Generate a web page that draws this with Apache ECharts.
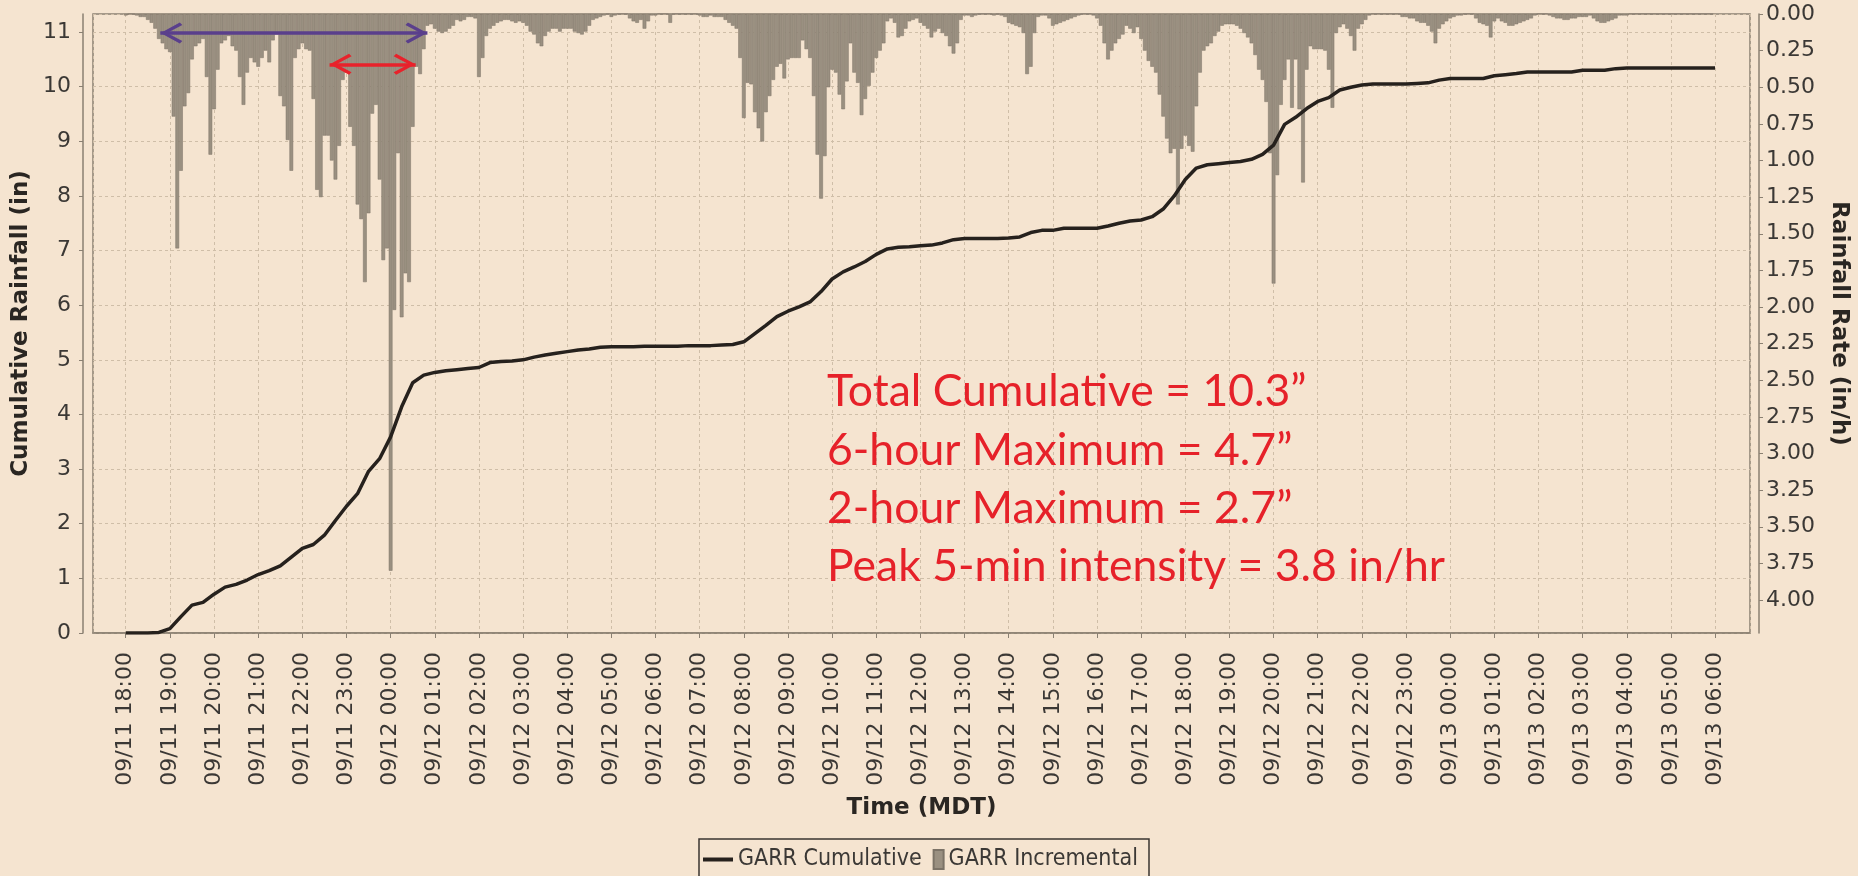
<!DOCTYPE html>
<html><head><meta charset="utf-8">
<script src="https://cdn.jsdelivr.net/npm/echarts@6/dist/echarts.min.js"></script>
<style>html,body{margin:0;padding:0;background:#F5E4D0;}#c{width:1858px;height:876px;}</style>
</head><body><div id="c"></div>
<script>
// ---------- DATA ----------
// 5-minute rainfall rate (in/h), starting 09/11 18:00 MDT, one array per 6 hours
const rate_0911_18to23 = [
  0.01,0,0,0.01,0.02,0.02,0.04,0.06,0.10,0.17,0.20,0.24,
  0.26,0.70,1.60,1.07,0.63,0.54,0.31,0.22,0.20,0.17,0.43,0.96,
  0.65,0.38,0.20,0.18,0.15,0.22,0.25,0.43,0.62,0.40,0.30,0.33,
  0.36,0.30,0.25,0.33,0.18,0.14,0.56,0.63,0.86,1.07,0.30,0.24,
  0.20,0.24,0.25,0.58,1.20,1.25,0.83,0.83,1.00,1.13,0.90,0.45,
  0.40,0.77,0.90,1.30,1.40,1.83,1.36,0.68,0.62,1.13,1.68,1.60
];
const rate_0912_00to05 = [
  3.80,2.02,0.95,2.07,1.77,1.83,0.77,0.36,0.41,0.24,0.08,0.07,
  0.10,0.12,0.13,0.12,0.10,0.08,0.04,0.05,0.04,0.02,0.02,0.03,
  0.43,0.30,0.15,0.10,0.08,0.06,0.05,0.04,0.04,0.05,0.06,0.05,
  0.06,0.08,0.12,0.14,0.20,0.22,0.15,0.12,0.10,0.10,0.12,0.10,
  0.10,0.10,0.12,0.13,0.14,0.12,0.08,0.04,0.03,0.02,0.01,0,
  0.02,0.01,0,0,0,0.03,0.05,0.06,0.04,0.10,0.05,0.01
];
const rate_0912_06to11 = [
  0.01,0,0,0,0.06,0,0,0,0,0,0,0,
  0.01,0.02,0.02,0.01,0.02,0.02,0.02,0.04,0.06,0.08,0.10,0.30,
  0.71,0.47,0.48,0.67,0.78,0.87,0.67,0.56,0.45,0.36,0.34,0.44,
  0.31,0.30,0.30,0.30,0.18,0.24,0.30,0.56,0.96,1.26,0.97,0.50,
  0.38,0.40,0.55,0.65,0.46,0.20,0.40,0.47,0.69,0.58,0.49,0.40,
  0.30,0.25,0.20,0.05,0.03,0.06,0.16,0.15,0.10,0.05,0.04,0.03
];
const rate_0912_12to17 = [
  0.06,0.08,0.10,0.16,0.12,0.10,0.13,0.15,0.22,0.27,0.20,0.04,
  0.01,0.01,0.02,0.01,0,0,0,0,0.01,0,0.01,0.02,
  0.06,0.07,0.08,0.09,0.13,0.41,0.36,0.13,0.02,0.01,0.01,0.03,
  0.08,0.07,0.06,0.05,0.04,0.03,0.02,0.01,0,0,0,0.01,
  0.03,0.08,0.20,0.31,0.25,0.20,0.17,0.14,0.08,0.10,0.13,0.09,
  0.17,0.25,0.32,0.36,0.40,0.55,0.70,0.85,0.95,0.92,1.30,0.92
];
const rate_0912_18to23 = [
  0.83,0.90,0.94,0.63,0.40,0.25,0.22,0.20,0.15,0.12,0.08,0.07,
  0.07,0.07,0.08,0.10,0.13,0.16,0.20,0.28,0.38,0.45,0.60,0.95,
  1.84,1.10,0.62,0.45,0.31,0.64,0.31,0.65,1.15,0.38,0.22,0.24,
  0.24,0.24,0.25,0.38,0.64,0.13,0.09,0.07,0.10,0.15,0.25,0.10,
  0.07,0.04,0.01,0,0,0,0,0,0,0,0,0.02,
  0.02,0.03,0.03,0.05,0.06,0.06,0.08,0.12,0.20,0.10,0.07,0.05
];
const rate_0913_00to05 = [
  0.03,0.02,0.01,0.01,0,0,0,0.03,0.06,0.07,0.08,0.16,
  0.05,0.03,0.05,0.06,0.08,0.08,0.07,0.06,0.05,0.04,0.03,0.01,
  0,0,0,0.01,0.02,0.03,0.03,0.04,0.04,0.03,0.03,0.02,
  0.02,0.02,0.01,0.03,0.05,0.06,0.06,0.05,0.04,0.03,0.01,0.01,
  0.01,0,0,0,0,0,0,0,0,0,0,0,
  0,0,0,0,0,0,0,0,0,0,0,0
];
// Cumulative rainfall (in) every 15 minutes from 09/11 18:00 to 09/13 06:00
const cum_0911_18to23 = [0.00,0.00,0.00,0.01, 0.08,0.30,0.51,0.56, 0.71,0.84,0.89,0.97, 1.07,1.14,1.23,1.39, 1.55,1.62,1.79,2.06, 2.32,2.55,2.96,3.19];
const cum_0912_00to05 = [3.59,4.14,4.58,4.72, 4.77,4.80,4.82,4.84, 4.86,4.95,4.97,4.98, 5.00,5.05,5.09,5.12, 5.15,5.18,5.20,5.23, 5.24,5.24,5.24,5.25];
const cum_0912_06to11 = [5.25,5.25,5.25,5.26, 5.26,5.26,5.27,5.28, 5.33,5.48,5.63,5.79, 5.89,5.97,6.06,6.25, 6.48,6.61,6.70,6.80, 6.93,7.03,7.06,7.07];
const cum_0912_12to17 = [7.09,7.10,7.14,7.20, 7.22,7.22,7.22,7.22, 7.23,7.25,7.33,7.37, 7.37,7.41,7.41,7.41, 7.41,7.45,7.50,7.54, 7.56,7.62,7.76,8.00];
const cum_0912_18to23 = [8.30,8.51,8.57,8.59, 8.61,8.63,8.67,8.76, 8.93,9.31,9.44,9.60, 9.73,9.80,9.94,9.99, 10.03,10.05,10.05,10.05, 10.05,10.06,10.07,10.12];
const cum_0913_00to06 = [10.15,10.15,10.15,10.15, 10.20,10.22,10.24,10.27, 10.27,10.27,10.27,10.27, 10.30,10.30,10.30,10.33, 10.34,10.34,10.34,10.34, 10.34,10.34,10.34,10.34, 10.34];

const seriesStart = [2013, 8, 11, 18, 0];   // 09/11 18:00
const axisStart   = [2013, 8, 11, 17, 18];  // time axis range
const axisEnd     = [2013, 8, 13, 6, 45];
const sixHourWindow = [[2013,8,11,18,47],[2013,8,12,0,50]];
const twoHourWindow = [[2013,8,11,22,37],[2013,8,12,0,34]];
const annotationLines = ['Total Cumulative = 10.3\u201D','6-hour Maximum = 4.7\u201D','2-hour Maximum = 2.7\u201D','Peak 5-min intensity = 3.8 in/hr'];
const seriesNames = ['GARR Cumulative','GARR Incremental'];
const axisNames = {x:'Time (MDT)', left:'Cumulative Rainfall (in)', right:'Rainfall Rate (in/h)'};

// ---------- BUILD ----------
const T = a => new Date(a[0],a[1],a[2],a[3],a[4]).getTime();
const t0 = T(seriesStart);
const rates = [].concat(rate_0911_18to23, rate_0912_00to05, rate_0912_06to11, rate_0912_12to17, rate_0912_18to23, rate_0913_00to05);
const cums = [].concat(cum_0911_18to23, cum_0912_00to05, cum_0912_06to11, cum_0912_12to17, cum_0912_18to23, cum_0913_00to06);
const barData = rates.map((v,i)=>[t0 + i*300000, v]);
const lineData = cums.map((v,i)=>[t0 + i*900000, v]);

const FONT = "'DejaVu Sans', sans-serif";
const FONT_LEG = "'DejaVu Sans Condensed', 'DejaVu Sans', sans-serif";
const TXT = '#3b3835';
const AX = '#8a8072';
const GRID_C = '#cfbea8';
const TITLE = {fontFamily: 'DejaVu Sans', fontWeight: 'bold', fontSize: 23, color: '#2a2622'};
const p2 = n => String(n).padStart(2,'0');
const fmtTime = v => { const d = new Date(v); return p2(d.getMonth()+1)+'/'+p2(d.getDate())+' '+p2(d.getHours())+':'+p2(d.getMinutes()); };

const chev = 'path://M0,-22h0.1v0.1h-0.1Z M0,0 L10.5,19 L8,21.5 L0,6.5 L-8,21.5 L-10.5,19 Z';

const chart = echarts.init(document.getElementById('c'), null, {renderer:'canvas'});
chart.setOption({
  animation: false,
  backgroundColor: '#F5E4D0',
  grid: {left: 93, right: 107, top: 14, bottom: 243, show: true, borderColor: AX, borderWidth: 1.5, backgroundColor: 'transparent'},
  xAxis: {
    type: 'time', min: T(axisStart), max: T(axisEnd), offset: 10,
    minInterval: 3600000, maxInterval: 3600000, splitNumber: 40,
    name: axisNames.x, nameLocation: 'middle', nameGap: 154, nameTextStyle: TITLE,
    axisLine: {show: true, lineStyle: {color: AX, width: 1.5}},
    axisTick: {show: true, length: 5, lineStyle: {color: AX, width: 1}},
    axisLabel: {rotate: 90, margin: 9, interval: 0, hideOverlap: false, showMinLabel: false, showMaxLabel: false,
      fontFamily: FONT, fontSize: 22, color: TXT, formatter: v => fmtTime(v)},
    splitLine: {show: true, lineStyle: {color: GRID_C, type: [3,3], width: 1}}
  },
  yAxis: [{
    type: 'value', position: 'left', offset: 10, min: 0, max: 11.33, interval: 1,
    name: axisNames.left, nameLocation: 'middle', nameGap: 45, nameRotate: 90, nameTextStyle: TITLE,
    axisLine: {show: true, lineStyle: {color: AX, width: 1.5}},
    axisTick: {show: true, length: 4, lineStyle: {color: AX}},
    axisLabel: {margin: 12, fontFamily: FONT, fontSize: 22, color: TXT, showMaxLabel: false},
    splitLine: {show: true, lineStyle: {color: GRID_C, type: [3,3], width: 1}}
  },{
    type: 'value', position: 'right', offset: 9, min: 0, max: 4.225, interval: 0.25, inverse: true,
    name: axisNames.right, nameLocation: 'middle', nameGap: 68, nameRotate: -90, nameTextStyle: TITLE,
    axisLine: {show: true, lineStyle: {color: AX, width: 1.5}},
    axisTick: {show: true, length: 4, lineStyle: {color: AX}},
    axisLabel: {margin: 7, fontFamily: FONT, fontSize: 22, color: TXT, showMaxLabel: false, formatter: v => v.toFixed(2)},
    splitLine: {show: false}
  }],
  legend: {
    left: 699, top: 839, padding: [9, 11, 20, 4],
    itemWidth: 30, itemHeight: 19, itemGap: -9, itemTextGap: 7,
    borderColor: '#3a3531', borderWidth: 1.5, selectedMode: false,
    textStyle: {fontFamily: FONT_LEG, fontSize: 23, color: TXT},
    data: [
      {name: seriesNames[0], icon: 'path://M0,0H30V4H0Z'},
      {name: seriesNames[1], icon: 'path://M0,9.5h0.1v0.1h-0.1Z M20,0H30V19H20Z'}
    ]
  },
  series: [{
    name: seriesNames[1], type: 'bar', yAxisIndex: 1, data: barData, barWidth: 3.69, z: 2,
    itemStyle: {color: '#9a9081', borderColor: '#7c7367', borderWidth: 0.5},
    emphasis: {disabled: true}
  },{
    name: seriesNames[0], type: 'line', yAxisIndex: 0, data: lineData, showSymbol: false, z: 3,
    lineStyle: {color: '#26211d', width: 3.5},
    itemStyle: {color: '#26211d', borderWidth: 0},
    emphasis: {disabled: true},
    markLine: {
      silent: true, symbol: [chev, chev], symbolSize: [21, 44],
      label: {show: false}, emphasis: {disabled: true},
      data: [
        [{coord: [T(sixHourWindow[0]), 10.98], lineStyle: {color: '#5a3f8c', width: 3.5, type: 'solid'}},
         {coord: [T(sixHourWindow[1]), 10.98], lineStyle: {color: '#5a3f8c', width: 3.5, type: 'solid'}}],
        [{coord: [T(twoHourWindow[0]), 10.41], lineStyle: {color: '#e8222b', width: 3.5, type: 'solid'}},
         {coord: [T(twoHourWindow[1]), 10.41], lineStyle: {color: '#e8222b', width: 3.5, type: 'solid'}}]
      ]
    }
  }],
  graphic: annotationLines.map((t, i) => ({
    type: 'text', x: 827, y: [392, 451, 509, 567][i], z: 100, silent: true,
    style: {text: t, font: '44.5px Lato', fill: '#e62129', align: 'left', verticalAlign: 'middle',
      shadowColor: 'rgba(60,40,30,0.45)', shadowBlur: 3, shadowOffsetX: 2, shadowOffsetY: 2}
  }))
});
</script></body></html>
